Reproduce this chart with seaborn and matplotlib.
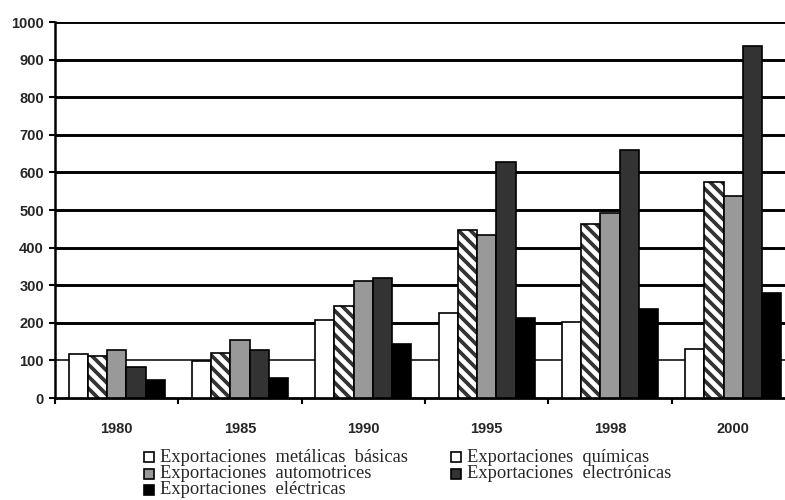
import matplotlib
matplotlib.use("Agg")
import matplotlib.pyplot as plt
import matplotlib.colors as mcolors
import seaborn as sns
import pandas as pd
from matplotlib.lines import Line2D

years = ["1980", "1985", "1990", "1995", "1998", "2000"]
series = [
    "Exportaciones metálicas básicas",
    "Exportaciones químicas",
    "Exportaciones automotrices",
    "Exportaciones electrónicas",
    "Exportaciones eléctricas",
]
metalicas = [117, 99, 207, 227, 203, 129]
quimicas = [112, 120, 245, 446, 462, 574]
automotrices = [128, 154, 311, 434, 491, 538]
electronicas = [83, 128, 320, 628, 660, 937]
electricas = [48, 52, 143, 212, 236, 280]
yticks = [0, 100, 200, 300, 400, 500, 600, 700, 800, 900, 1000]

colors = ["#ffffff", "#ffffff", "#999999", "#333333", "#000000"]

values = [metalicas, quimicas, automotrices, electronicas, electricas]
rows = []
for s, vals in zip(series, values):
    for y, v in zip(years, vals):
        rows.append({"year": y, "serie": s, "valor": v})
df = pd.DataFrame(rows)

# figure rendered at 72 dpi (so the hatch tile is 72 px); sizes below given
# in "100-dpi points" and scaled
DPI = 72
S = 100 / DPI

sns.set_style("white")
plt.rcParams["hatch.linewidth"] = 2.7 * S

fig = plt.figure(figsize=(785 / DPI, 500 / DPI), dpi=DPI)
ax = fig.add_axes([55 / 785, 1 - 398 / 500, 740 / 785, 376 / 500])

sns.barplot(data=df, x="year", y="valor", hue="serie", order=years,
            hue_order=series, palette=colors, width=0.78, gap=0,
            edgecolor="black", linewidth=1.2 * S, saturation=1,
            legend=False, ax=ax, zorder=3)

BS = chr(92)
for bar in ax.containers[1]:
    bar.set_hatch(BS * 2)
    bar._hatch_color = mcolors.to_rgba("#333333")

tick_font = dict(fontsize=10.5 * S, fontweight="bold", family="Liberation Sans")
ax.set_ylim(0, 1000)
ax.set_xlim(-0.5, len(years) - 0.5)
ax.set_yticks(yticks)
ax.set_yticklabels([str(t) for t in yticks], **tick_font)
ax.set_xticks(range(len(years)))
ax.set_xticklabels(years, **tick_font)
ax.set_xticks([i + 0.5 for i in range(-1, len(years))], minor=True)
ax.tick_params(axis="x", which="major", length=0, pad=17 * S)
ax.tick_params(axis="x", which="minor", length=4 * S, width=1.5 * S,
               color="black", bottom=True)
ax.tick_params(axis="y", length=4 * S, width=1.5 * S, color="black",
               pad=4 * S, left=True)
ax.set_xlabel("")
ax.set_ylabel("")

for t in yticks[1:]:
    lw = 1.1 if t == 100 else 2.1
    ax.axhline(t, color="black", lw=lw * S, zorder=1)

for side in ["top", "right"]:
    ax.spines[side].set_visible(False)
ax.spines["left"].set_linewidth(1.8 * S)
ax.spines["bottom"].set_linewidth(2.0 * S)
ax.spines["left"].set_color("black")
ax.spines["bottom"].set_color("black")

# legend (manual, below plot)
leg_pos = [
    (149, 457), (456, 457),
    (149, 473.5), (456, 473.5),
    (149, 490),
]
for (px, py), s, c in zip(leg_pos, series, colors):
    fx, fy = px / 785, 1 - py / 500
    fig.add_artist(Line2D([fx], [fy], marker="s", markersize=6.5 * S,
                          markerfacecolor=c, markeredgecolor="black",
                          markeredgewidth=1.2 * S, transform=fig.transFigure))
    fig.text(fx + 11 / 785, fy, s.replace(" ", "  "), fontsize=13.3 * S,
             family="Liberation Serif", va="center", ha="left")

fig.savefig("out.png", dpi=DPI)
